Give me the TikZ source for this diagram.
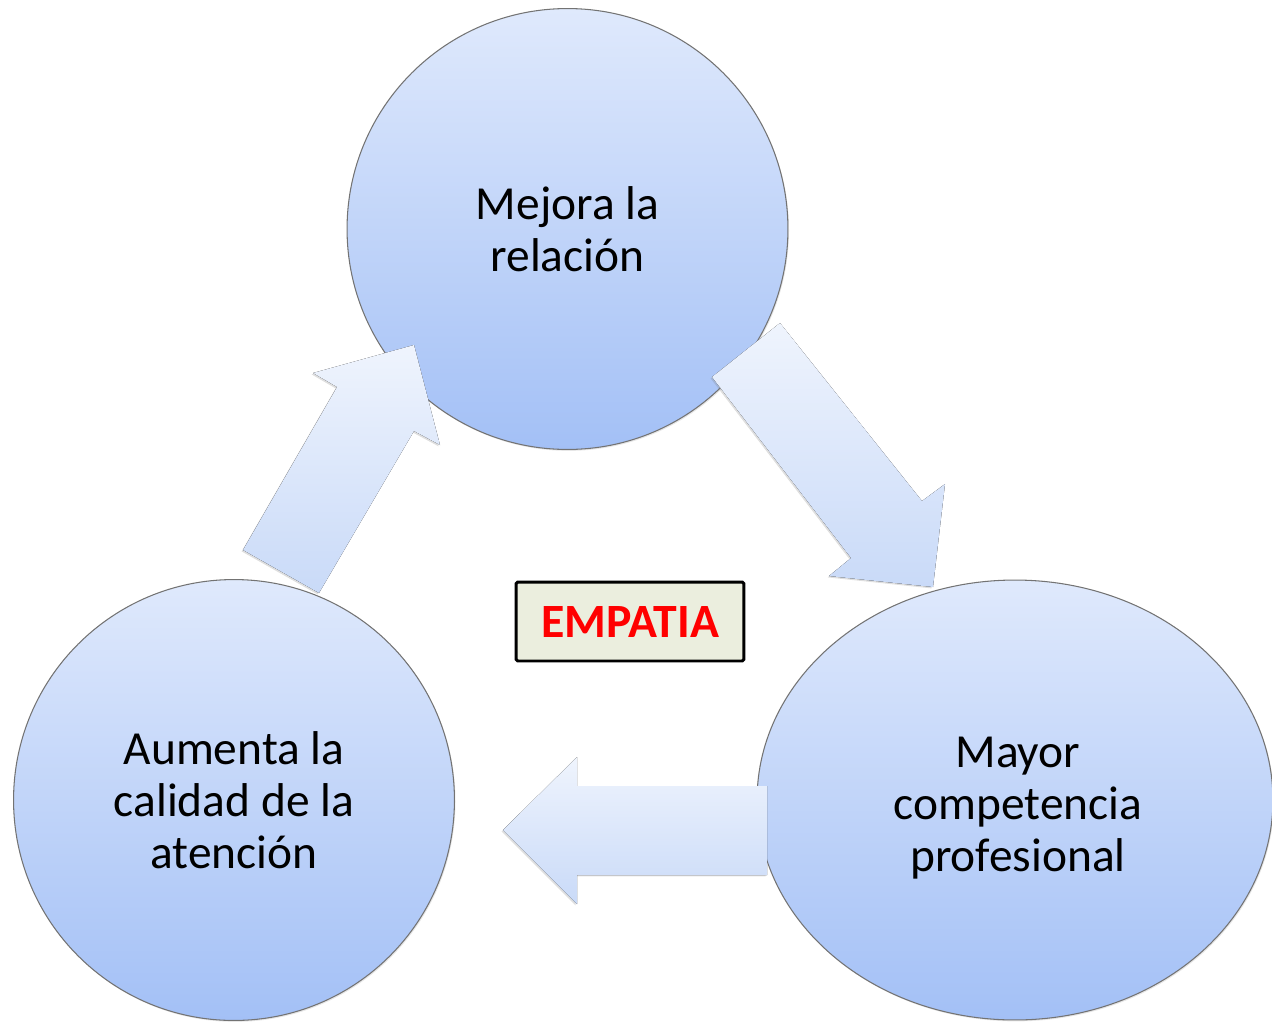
\documentclass[tikz,border=0pt]{standalone}
\usepackage{fontspec}
\setmainfont{Carlito}
\usetikzlibrary{shapes.geometric,shadows}
\definecolor{circtop}{RGB}{223,233,252}
\definecolor{circbot}{RGB}{163,192,246}
\definecolor{arrtop}{RGB}{239,244,253}
\definecolor{arrbot}{RGB}{201,218,248}
\definecolor{boxfill}{RGB}{235,238,222}
\begin{document}
\begin{tikzpicture}[x=0.02cm,y=-0.02cm]
  \tikzstyle{unit}=[draw=black!55,line width=0.6pt,top color=circtop,bottom color=circbot,
    align=center,inner sep=0pt,font=\fontsize{27}{29.5}\selectfont,
    drop shadow={opacity=0.2,shadow xshift=0.6pt,shadow yshift=-0.8pt}]
  \tikzstyle{bigarrow}=[top color=arrtop,bottom color=arrbot,
    drop shadow={opacity=0.25,shadow xshift=-0.8pt,shadow yshift=-0.8pt}]
  \useasboundingbox (0,0) rectangle (1272,1022);
  % the three stages
  \node[unit,circle,minimum size=8.82cm](rel) at (567.5,229){Mejora la\\relación};
  \node[unit,circle,minimum size=8.82cm](cal) at (234,800){Aumenta la\\calidad de la\\atención};
  \node[unit,ellipse,minimum width=10.32cm,minimum height=8.8cm](comp) at (1015,800){};
  \node[align=center,inner sep=0pt,font=\fontsize{27}{29.5}\selectfont](comptext) at (1018,808){Mayor\\competencia\\profesional};
  % block arrows between them
  \fill[bigarrow] (712,377) -- (780,323) -- (922,501) -- (945,484) -- (933,587) -- (829,576) -- (851,558) -- cycle;
  \fill[bigarrow] (767,786) -- (577,786) -- (577,757) -- (503,830) -- (577,904) -- (577,875) -- (767,875) -- cycle;
  \fill[bigarrow] (243,550) -- (319,593) -- (414,431) -- (440,445) -- (414,345) -- (313,373) -- (337,387) -- cycle;
  \node[draw=black,line width=1.7pt,rounded corners=1pt,fill=boxfill,minimum width=4.56cm,minimum height=1.58cm,
    text=red,font=\fontsize{27.2}{29.5}\selectfont\bfseries](emp) at (630,621.5){EMPATIA\hspace{8pt}};
\end{tikzpicture}
\end{document}
